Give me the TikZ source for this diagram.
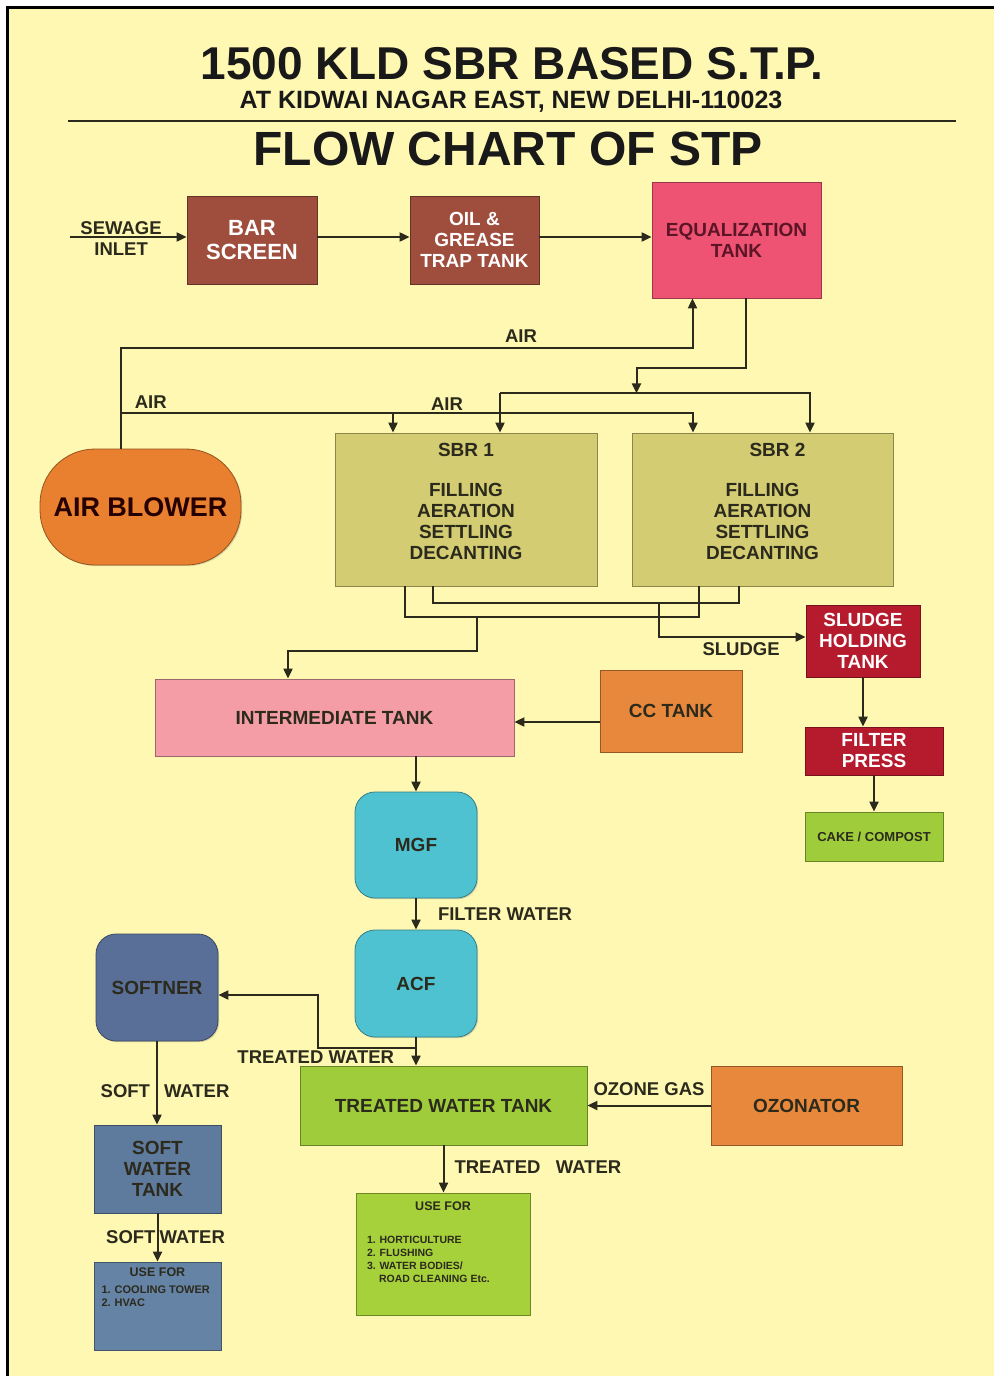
\documentclass[tikz,border=0pt]{standalone}
\usepackage{fontspec}
\setmainfont{Liberation Sans}
\usetikzlibrary{positioning,calc,arrows.meta,shadows}

\definecolor{paper}{HTML}{FFF8B2}
\definecolor{brick}{HTML}{9F4E3E}
\definecolor{eqpink}{HTML}{EE5373}
\definecolor{eqtext}{HTML}{5C1526}
\definecolor{blowerorange}{HTML}{E8802F}
\definecolor{sbrolive}{HTML}{D3CC73}
\definecolor{sludgered}{HTML}{B51B2D}
\definecolor{interpink}{HTML}{F49DA6}
\definecolor{tankorange}{HTML}{E8883C}
\definecolor{filtercyan}{HTML}{4FC2D1}
\definecolor{softblue}{HTML}{5A6F98}
\definecolor{tankblue}{HTML}{5E7A9D}
\definecolor{useblue}{HTML}{6583A5}
\definecolor{leafgreen}{HTML}{9FCC3B}
\definecolor{usegreen}{HTML}{A7D13B}
\definecolor{inkdark}{HTML}{2B2A1C}

\newcommand\stptitle{\bfseries\fontsize{46}{50}\selectfont}
\newcommand\stpplace{\bfseries\fontsize{25}{28}\selectfont}
\newcommand\stphead{\bfseries\fontsize{48}{52}\selectfont}
\newcommand\stpbox{\bfseries\fontsize{19}{21}\selectfont}
\newcommand\stpscreen{\bfseries\fontsize{22}{24}\selectfont}
\newcommand\stpblower{\bfseries\fontsize{27}{30}\selectfont}
\newcommand\stplbl{\bfseries\fontsize{18.5}{21}\selectfont}
\newcommand\stpcake{\bfseries\fontsize{13}{15}\selectfont}
\newcommand\stpusehd{\bfseries\fontsize{12.5}{14}\selectfont}
\newcommand\stplist{\bfseries\fontsize{10.5}{13}\selectfont}
\newcommand\stpsoftlist{\bfseries\fontsize{11}{13}\selectfont}

\tikzset{
  box/.style={draw=#1!65!black, fill=#1, line width=0.8pt, inner sep=0pt,
    align=center, text=inkdark, font=\stpbox,
    drop shadow={shadow xshift=1.2pt, shadow yshift=-1.2pt, opacity=0.3}},
  lbl/.style={text=inkdark, font=\stplbl, inner sep=2pt}
}

\begin{document}
\begin{tikzpicture}[x=1pt, y=-1pt,
    flow/.style={draw=inkdark, line width=2pt, -{Triangle[length=10pt,width=9pt]}},
    pipe/.style={draw=inkdark, line width=2pt}]
  \useasboundingbox (0,0) rectangle (994,1376);
  \fill[white] (0,0) rectangle (994,1376);
  \fill[paper] (7.5,7.5) rectangle (994,1376);
  \draw[line width=2.5pt] (7.5,1376) -- (7.5,7.5) -- (994,7.5);

  % heading
  \node[anchor=base, font=\stptitle, text=black!90] (title) at (512,79) {1500 KLD SBR BASED S.T.P.};
  \node[anchor=base, font=\stpplace, text=black!90] (place) at (511,108) {AT KIDWAI NAGAR EAST, NEW DELHI-110023};
  \draw[line width=2pt, inkdark] (68,121) -- (956,121);
  \node[anchor=base, font=\stphead, text=black!90] (head) at (508,165) {FLOW CHART OF STP};

  % intake
  \node[box=brick, text=white, font=\stpscreen, minimum width=130pt, minimum height=88pt] (bar) at (252,240) {BAR\\SCREEN};
  \node[box=brick, text=white, minimum width=129pt, minimum height=88pt] (oil) at (474.5,240) {OIL \&\\GREASE\\TRAP TANK};
  \node[box=eqpink, text=eqtext, minimum width=169pt, minimum height=116pt] (eq) at (736.5,240) {EQUALIZATION\\TANK};

  % aeration and reactors
  \node[box=blowerorange, rounded corners=55pt, font=\stpblower, text=black!85!red, minimum width=201pt, minimum height=116pt] (blower) at (140.5,507) {AIR BLOWER};
  \node[box=sbrolive, minimum width=262pt, minimum height=153pt] (sbr1) at (466,509.5)
    {\parbox[c][153pt][t]{250pt}{\centering\vspace*{10pt}SBR 1\\[19pt]FILLING\\AERATION\\SETTLING\\DECANTING}};
  \node[box=sbrolive, minimum width=261pt, minimum height=153pt] (sbr2) at (762.5,509.5)
    {\parbox[c][153pt][t]{250pt}{\centering\vspace*{10pt}\hspace*{30pt}SBR 2\\[19pt]FILLING\\AERATION\\SETTLING\\DECANTING}};

  % sludge line
  \node[box=sludgered, text=white, minimum width=114pt, minimum height=72pt] (sludge) at (863,641) {SLUDGE\\HOLDING\\TANK};
  \node[box=sludgered, text=white, minimum width=138pt, minimum height=48pt] (press) at (874,751) {FILTER\\PRESS};
  \node[box=leafgreen, font=\stpcake, minimum width=138pt, minimum height=49pt] (cake) at (874,836.5) {CAKE / COMPOST};

  % tertiary treatment
  \node[box=interpink, minimum width=359pt, minimum height=77pt] (inter) at (334.5,717.5) {INTERMEDIATE TANK};
  \node[box=tankorange, minimum width=142pt, minimum height=82pt] (cc) at (671,711) {CC TANK};
  \node[box=filtercyan, rounded corners=20pt, minimum width=122pt, minimum height=106pt] (mgf) at (416,845) {MGF};
  \node[box=filtercyan, rounded corners=20pt, minimum width=122pt, minimum height=107pt] (acf) at (416,983.5) {ACF};
  \node[box=softblue, rounded corners=20pt, minimum width=122pt, minimum height=107pt] (softner) at (157,987.5) {SOFTNER};
  \node[box=tankblue, minimum width=127pt, minimum height=88pt] (swt) at (157.5,1169) {SOFT\\WATER\\TANK};
  \node[box=useblue, minimum width=127pt, minimum height=88pt] (softuse) at (157.5,1306)
    {\parbox[c][88pt][t]{112pt}{\centering\vspace*{6pt}{\stpusehd USE FOR}\par\vspace{4pt}\raggedright\stpsoftlist 1. COOLING TOWER\\2. HVAC}};
  \node[box=leafgreen, minimum width=287pt, minimum height=79pt] (twt) at (443.5,1105.5) {TREATED WATER TANK};
  \node[box=tankorange, minimum width=191pt, minimum height=79pt] (ozone) at (806.5,1105.5) {OZONATOR};
  \node[box=usegreen, minimum width=174pt, minimum height=122pt] (twuse) at (443,1254)
    {\parbox[c][122pt][t]{152pt}{\centering\vspace*{9pt}{\stpusehd USE FOR}\par\vspace{20pt}\raggedright\stplist 1. HORTICULTURE\\2. FLUSHING\\3. WATER BODIES/\\\hspace*{12pt}ROAD CLEANING Etc.}};

  % intake connectors
  \coordinate (inlet) at ($(bar.west)+(-117,-3)$);
  \draw[flow] (inlet) -- node[lbl, above, inner sep=1pt, pos=0.44] {SEWAGE} node[lbl, below, inner sep=5pt, pos=0.44] {INLET} (inlet -| bar.west);
  \draw[flow] ([yshift=3pt]bar.east) -- ([yshift=3pt]oil.west);
  \draw[flow] ([yshift=3pt]oil.east) -- ([yshift=3pt]oil.east -| eq.west);

  % air supply
  \coordinate (airjoint) at ($(blower.north)+(-19.5,-36)$);
  \coordinate (eqair) at ([xshift=-44pt]eq.south);
  \coordinate (sbr1air) at ([xshift=-73pt]sbr1.north);
  \coordinate (sbr2air) at ([xshift=-69.5pt]sbr2.north);
  \draw[flow] ([xshift=-19.5pt]blower.north) -- ++(0,-101) -| node[lbl, above, pos=0.35, inner sep=4pt] {AIR} (eqair);
  \draw[flow] (airjoint) -| node[lbl, above, pos=0.026, inner sep=3pt] {AIR} node[lbl, above, pos=0.285, inner sep=1pt] {AIR} (sbr2air);
  \draw[flow] (sbr1air |- airjoint) -- (sbr1air);

  % feed from equalization tank
  \coordinate (eqout) at ([xshift=9.5pt]eq.south);
  \coordinate (feed) at ($(eqout)+(-109.5,95)$);
  \coordinate (sbr1in) at ([xshift=34pt]sbr1.north);
  \coordinate (sbr2in) at ([xshift=47.5pt]sbr2.north);
  \draw[flow] (eqout) -- ++(0,70) -| (feed);
  \draw[flow] (sbr1in |- feed) -- (sbr2in |- feed) -- (sbr2in);
  \draw[flow] (sbr1in |- feed) -- (sbr1in);

  % decanting and sludge withdrawal
  \draw[pipe] ([xshift=-33pt]sbr1.south) -- ++(0,17) -| ([xshift=-23.5pt]sbr2.south);
  \draw[pipe] ([xshift=-61pt]sbr1.south) -- ++(0,31) -| ([xshift=-63.5pt]sbr2.south);
  \coordinate (sludgetap) at ($(sbr2.south)+(-103.5,17)$);
  \coordinate (decanttap) at ($(sbr1.south)+(11,31)$);
  \draw[flow] (sludgetap) |- node[lbl, below, pos=0.78, inner sep=5pt] {SLUDGE} ([yshift=4pt]sludge.west);
  \draw[flow] (decanttap) -- ++(0,34) -| ([xshift=-46.5pt]inter.north);
  \draw[flow] (sludge.south) -- (sludge.south |- press.north);
  \draw[flow] (press.south) -- (cake.north);

  % filtration train
  \draw[flow] ([yshift=-11pt]cc.west) -- ([yshift=-11pt]cc.west -| inter.east);
  \draw[flow] (inter.south -| mgf.north) -- (mgf.north);
  \draw[flow] (mgf.south) -- node[lbl, right=19pt] {FILTER WATER} (acf.north);
  \coordinate (softtap) at ($(acf.south)+(0,11)$);
  \draw[flow] (acf.south) -- node[lbl, left=19pt, pos=0.7] {TREATED WATER} (acf.south |- twt.north);
  \draw[flow] (softtap) -- ++(-98,0) |- ([yshift=-7.5pt]softner.east);

  % soft water
  \draw[flow] (softner.south) -- node[lbl, left, pos=0.6, inner sep=6pt] {SOFT} node[lbl, right, pos=0.6, inner sep=6pt] {WATER} (softner.south |- swt.north);
  \draw[flow] (swt.south) -- node[lbl, left, inner sep=1pt] {SOFT} node[lbl, right, inner sep=1pt] {WATER} (swt.south |- softuse.north);

  % treated water
  \draw[flow] (ozone.west) -- node[lbl, above, inner sep=9pt] {OZONE GAS} (twt.east);
  \draw[flow] (twt.south) -- node[lbl, right=8pt, pos=0.45] {TREATED\ \ \ WATER} (twt.south |- twuse.north);
\end{tikzpicture}
\end{document}
